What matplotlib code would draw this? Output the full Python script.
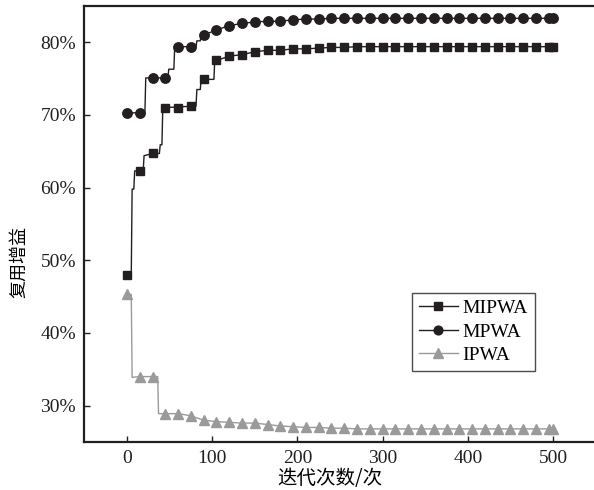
import matplotlib
matplotlib.use("Agg")
import matplotlib.pyplot as plt
from matplotlib.lines import Line2D
from matplotlib.ticker import FuncFormatter

# marker positions (iterations)
ITER = [0, 15, 30, 45, 60, 75, 90, 105, 120, 135, 150, 165, 180, 195, 210, 225,
        240, 255, 270, 285, 300, 315, 330, 345, 360, 375, 390, 405, 420, 435,
        450, 465, 480, 495, 500]

MIPWA = [48.0, 62.3, 64.7, 71.0, 71.0, 71.2, 74.9, 77.5, 78.1, 78.3, 78.7, 78.9,
         78.9, 79.1, 79.1, 79.2, 79.3, 79.3, 79.4, 79.4, 79.4, 79.4, 79.4, 79.4,
         79.4, 79.4, 79.4, 79.4, 79.4, 79.4, 79.4, 79.4, 79.4, 79.4, 79.4]
MPWA = [70.3, 70.3, 75.1, 75.1, 79.4, 79.4, 81.0, 81.7, 82.3, 82.6, 82.8, 82.9,
        82.9, 83.1, 83.2, 83.2, 83.3, 83.3, 83.3, 83.3, 83.3, 83.3, 83.3, 83.3,
        83.3, 83.3, 83.3, 83.3, 83.3, 83.3, 83.3, 83.3, 83.3, 83.3, 83.3]
IPWA = [45.3, 34.0, 34.0, 28.9, 28.9, 28.6, 28.0, 27.8, 27.7, 27.6, 27.6, 27.4,
        27.2, 27.1, 27.0, 27.0, 26.9, 26.9, 26.8, 26.8, 26.8, 26.8, 26.8, 26.8,
        26.8, 26.8, 26.8, 26.8, 26.8, 26.8, 26.8, 26.8, 26.8, 26.8, 26.8]

# step traces in the early phase (line only)
MIPWA_STEP_X = [0, 5, 6, 8, 9, 15, 19, 20, 30, 38, 39, 41, 42, 75, 81, 82, 86, 87, 90, 102, 103, 105]
MIPWA_STEP_Y = [48.0, 48.0, 59.8, 59.8, 62.3, 62.3, 62.3, 64.4, 64.7, 64.7, 65.9, 65.9, 71.0, 71.2,
                71.2, 73.5, 73.5, 74.9, 74.9, 74.9, 77.5, 77.5]
MPWA_STEP_X = [0, 15, 21, 22, 45, 48, 49, 55, 56, 75, 81, 82, 86, 87, 90]
MPWA_STEP_Y = [70.3, 70.3, 70.3, 75.1, 75.1, 75.1, 76.3, 76.3, 79.4, 79.4, 79.4, 80.2, 80.2, 81.0, 81.0]
IPWA_STEP_X = [0, 5, 6, 15, 30, 36, 37, 45]
IPWA_STEP_Y = [45.3, 45.3, 33.9, 34.0, 34.0, 34.0, 28.9, 28.9]

DARK = "#231f20"
GRAY = "#9a9a9a"

plt.rcParams['font.family'] = ['Liberation Serif', 'Noto Sans CJK SC']
plt.rcParams['mathtext.fontset'] = 'stix'


def trace(step_x, step_y, xs, ys):
    # early step points, then marker points after them
    last = step_x[-1]
    lx = list(step_x) + [x for x in xs if x > last]
    ly = list(step_y) + [y for x, y in zip(xs, ys) if x > last]
    return lx, ly


fig = plt.figure(figsize=(5.94, 4.90), dpi=100)
ax = fig.add_axes([0.1421, 0.098, 0.8606, 0.8898])

series = [
    ("MIPWA", MIPWA, MIPWA_STEP_X, MIPWA_STEP_Y, DARK, "s", 6.0),
    ("MPWA", MPWA, MPWA_STEP_X, MPWA_STEP_Y, DARK, "o", 6.8),
    ("IPWA", IPWA, IPWA_STEP_X, IPWA_STEP_Y, GRAY, "^", 7.5),
]

handles = []
for name, vals, sx, sy, col, mk, ms in series:
    lx, ly = trace(sx, sy, ITER, vals)
    ax.plot(lx, ly, color=col, lw=1.0, zorder=2)
    ax.plot(ITER, vals, linestyle="none", marker=mk, ms=ms, color=col,
            markeredgecolor=col, zorder=3)
    handles.append(Line2D([], [], color=col, lw=1.0, marker=mk, ms=ms - 0.5,
                          markeredgecolor=col, label=name))

ax.set_xlim(-50, 550)
ax.set_ylim(25, 85)
ax.set_xticks([0, 100, 200, 300, 400, 500])
ax.set_yticks([30, 40, 50, 60, 70, 80])
ax.yaxis.set_major_formatter(FuncFormatter(lambda v, p: f"{v:.0f}%"))
ax.tick_params(direction="in", length=4, width=1.0, labelsize=14, colors="#231f20",
               pad=6)

for s in ax.spines.values():
    s.set_linewidth(1.6)
    s.set_color("#231f20")

ax.set_xlabel("迭代次数/次", fontsize=14, family=['Noto Sans CJK SC'])
ax.xaxis.set_label_coords(0.48, -0.06)
ax.set_ylabel("复用增益", fontsize=13, family=['Noto Sans CJK SC'])
ax.yaxis.set_label_coords(-0.11, 0.413)

leg = ax.legend(handles=handles, loc="upper left", bbox_to_anchor=(0.641, 0.342),
                borderaxespad=0, fontsize=14, frameon=True, fancybox=False,
                handlelength=2.0, handletextpad=0.25, labelspacing=0.3,
                borderpad=0.35)
leg.get_frame().set_edgecolor("#231f20")
leg.get_frame().set_linewidth(1.0)

fig.savefig("out.png", dpi=100)
